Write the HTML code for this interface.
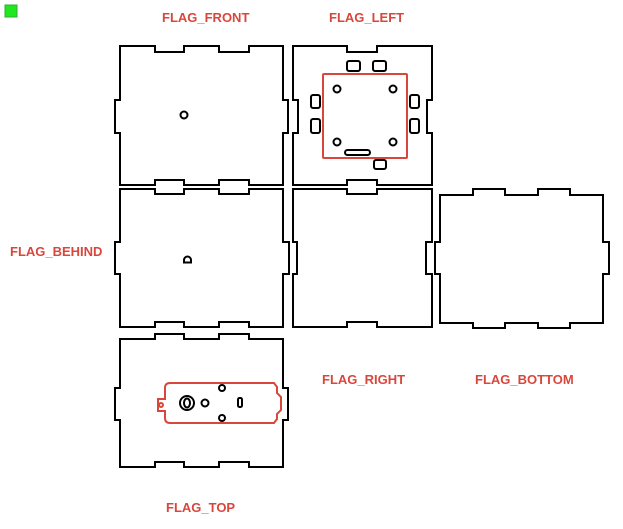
<!DOCTYPE html>
<html><head><meta charset="utf-8"><style>
html,body{margin:0;padding:0;background:#fff;width:623px;height:529px;overflow:hidden}
svg{display:block}
text{font-family:"Liberation Sans",Arial,sans-serif;font-weight:bold;font-size:13px;fill:#d9473c;letter-spacing:0px}
</style></head><body>
<svg width="623" height="529" viewBox="0 0 623 529">
<rect x="5" y="5" width="12" height="12" fill="#1ee81e" stroke="#3a3" stroke-width="1"/>
<g fill="none" stroke="#000" stroke-width="2" stroke-linejoin="miter">
<!-- FRONT -->
<path d="M120 46 H155 V52 H184 V46 H219 V52 H249 V46 H283 V100 H288 V133 H283 V185 H249 V180 H219 V185 H184 V180 H155 V185 H120 V133 H115 V100 H120 Z"/>
<circle cx="184" cy="115" r="3.5"/>
<!-- LEFT -->
<path d="M293 46 H347 V52 H377 V46 H432 V100 H427 V133 H432 V185 H377 V180 H347 V185 H293 V133 H298 V100 H293 Z"/>
<rect x="347" y="61" width="13" height="10" rx="2"/>
<rect x="373" y="61" width="13" height="10" rx="2"/>
<rect x="311" y="95" width="9" height="13" rx="2"/>
<rect x="311" y="119" width="9" height="14" rx="2"/>
<rect x="410" y="95" width="9" height="13" rx="2"/>
<rect x="410" y="119" width="9" height="14" rx="2"/>
<rect x="374" y="160" width="12" height="9" rx="2"/>
<circle cx="337" cy="89" r="3.5"/><circle cx="393" cy="89" r="3.5"/>
<circle cx="337" cy="142" r="3.5"/><circle cx="393" cy="142" r="3.5"/>
<rect x="345" y="150" width="25" height="5" rx="2.5"/>
<!-- BEHIND -->
<path d="M120 189 H155 V194 H184 V189 H219 V194 H249 V189 H283 V242 H289 V274 H283 V327 H249 V322 H219 V327 H184 V322 H155 V327 H120 V274 H115 V242 H120 Z"/>
<path d="M184 262.5 V260 A3.5 3.5 0 0 1 191 260 V262.5 Z"/>
<!-- RIGHT -->
<path d="M293 189 H347 V194 H377 V189 H432 V242 H426 V274 H432 V327 H377 V322 H347 V327 H293 V274 H297 V242 H293 Z"/>
<!-- BOTTOM -->
<path d="M440 195 H473 V189 H505 V195 H538 V189 H570 V195 H603 V242 H609 V274 H603 V323 H570 V328 H538 V323 H505 V328 H473 V323 H440 V274 H435 V242 H440 Z"/>
<!-- TOP -->
<path d="M120 339 H155 V334 H184 V339 H219 V334 H249 V339 H283 V388 H288 V420 H283 V467 H249 V462 H219 V467 H184 V462 H155 V467 H120 V420 H115 V388 H120 Z"/>
<circle cx="187" cy="403" r="7"/>
<ellipse cx="187" cy="403" rx="3" ry="4.5"/>
<circle cx="205" cy="403" r="3.5"/>
<circle cx="222" cy="388" r="3"/>
<circle cx="222" cy="418" r="3"/>
<rect x="238" y="398" width="4" height="9" rx="1.5"/>
</g>
<g fill="none" stroke="#d9473c" stroke-width="2">
<rect x="323" y="74" width="84" height="84" rx="1"/>
<path d="M170 383 H274 L277 387 V393 L281 397 V410 L277 414 V419 L274 423 H170 Q165 423 165 418 V411 H158 V399 H165 V388 Q165 383 170 383 Z"/>
<circle cx="161" cy="405" r="2"/>
</g>
<text x="162" y="22">FLAG_FRONT</text>
<text x="329" y="22">FLAG_LEFT</text>
<text x="10" y="256">FLAG_BEHIND</text>
<text x="322" y="384">FLAG_RIGHT</text>
<text x="475" y="384">FLAG_BOTTOM</text>
<text x="166" y="512">FLAG_TOP</text>
</svg>
</body></html>
